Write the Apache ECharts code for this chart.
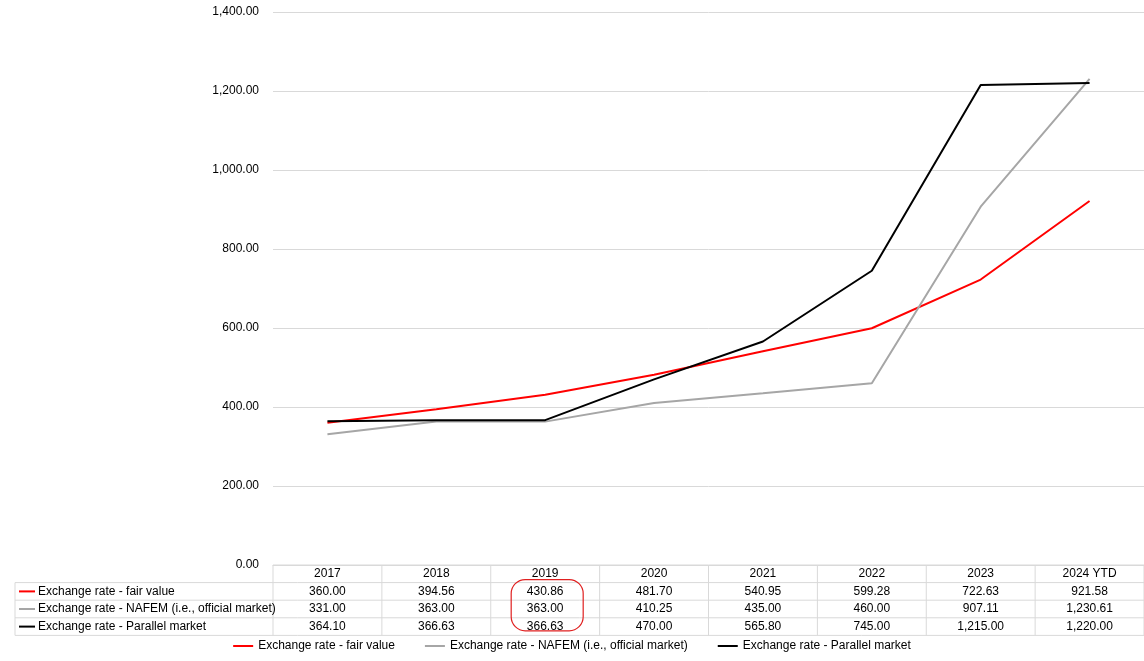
<!DOCTYPE html>
<html>
<head>
<meta charset="utf-8">
<script src="https://cdn.jsdelivr.net/npm/echarts@6/dist/echarts.min.js"></script>
<style>html,body{margin:0;padding:0;background:#fff}#c{width:1144px;height:661px}</style>
</head>
<body>
<div id="c"></div>
<script>
const years = ['2017', '2018', '2019', '2020', '2021', '2022', '2023', '2024 YTD'];
const fairValue = [360.00, 394.56, 430.86, 481.70, 540.95, 599.28, 722.63, 921.58];
const nafem = [331.00, 363.00, 363.00, 410.25, 435.00, 460.00, 907.11, 1230.61];
const parallel = [364.10, 366.63, 366.63, 470.00, 565.80, 745.00, 1215.00, 1220.00];
const seriesNames = ['Exchange rate - fair value', 'Exchange rate - NAFEM (i.e., official market)', 'Exchange rate - Parallel market'];
const colors = ['#ff0000', '#a6a6a6', '#000000'];
const yTicks = [0, 200, 400, 600, 800, 1000, 1200, 1400];

const fmt = v => v.toLocaleString('en-US', {minimumFractionDigits: 2, maximumFractionDigits: 2});
const font = 'Liberation Sans, Arial, sans-serif';
const chart = echarts.init(document.getElementById('c'));
const rows = [fairValue, nafem, parallel];

chart.setOption({
  animation: false,
  textStyle: {fontFamily: font},
  grid: {left: 273, right: 0, top: 12, bottom: 96},
  xAxis: {type: 'category', data: years, boundaryGap: true,
    axisLine: {lineStyle: {color: '#d9d9d9'}}, axisTick: {show: false}, axisLabel: {show: false}},
  yAxis: {type: 'value', min: 0, max: yTicks[yTicks.length - 1], interval: 200,
    axisLabel: {formatter: fmt, color: '#000', fontSize: 12, margin: 14},
    splitLine: {lineStyle: {color: '#d9d9d9'}}},
  legend: {bottom: 4, left: 'center', itemWidth: 20, itemHeight: 2, itemGap: 30,
    icon: 'rect', textStyle: {fontSize: 12, color: '#000'}},
  series: rows.map((d, i) => ({name: seriesNames[i], type: 'line', data: d, symbol: 'none',
    lineStyle: {width: 2, color: colors[i]}, itemStyle: {color: colors[i]}}))
});

// data table beneath the plot
const g = [];
const x0 = chart.convertToPixel({xAxisIndex: 0}, 0);
const x1 = chart.convertToPixel({xAxisIndex: 0}, 1);
const cw = x1 - x0;
const tTop = chart.convertToPixel({yAxisIndex: 0}, 0);
const rh = 17.6;
const tLeft = 15, gridLeft = x0 - cw / 2, tRight = 1144;
const line = (a, b, c, d) => g.push({type: 'line', shape: {x1: a, y1: b, x2: c, y2: d}, style: {stroke: '#d9d9d9', lineWidth: 1}});
for (let r = 0; r <= 4; r++) line(r === 0 ? gridLeft : tLeft, tTop + r * rh, tRight, tTop + r * rh);
line(tLeft, tTop + rh, tLeft, tTop + 4 * rh);
for (let c = 0; c <= years.length; c++) line(gridLeft + c * cw, tTop, gridLeft + c * cw, tTop + 4 * rh);
years.forEach((y, c) => g.push({type: 'text', x: x0 + c * cw, y: tTop + rh / 2,
  style: {text: y, align: 'center', verticalAlign: 'middle', font: '12px ' + font, fill: '#000'}}));
rows.forEach((d, r) => {
  const cy = tTop + (r + 1.5) * rh;
  g.push({type: 'line', shape: {x1: 19, y1: cy, x2: 35, y2: cy}, style: {stroke: colors[r], lineWidth: 2}});
  g.push({type: 'text', x: 38, y: cy, style: {text: seriesNames[r], verticalAlign: 'middle', font: '12px ' + font, fill: '#000'}});
  d.forEach((v, c) => g.push({type: 'text', x: x0 + c * cw, y: cy,
    style: {text: fmt(v), align: 'center', verticalAlign: 'middle', font: '12px ' + font, fill: '#000'}}));
});
// hand-drawn highlight around 2019 values
const hx = chart.convertToPixel({xAxisIndex: 0}, 2);
g.push({type: 'rect', shape: {x: hx - 34, y: tTop + rh - 3, width: 72, height: 2 * rh + 16, r: 14},
  style: {fill: 'none', stroke: '#e02020', lineWidth: 1.2}});
chart.setOption({graphic: g});
</script>
</body>
</html>
